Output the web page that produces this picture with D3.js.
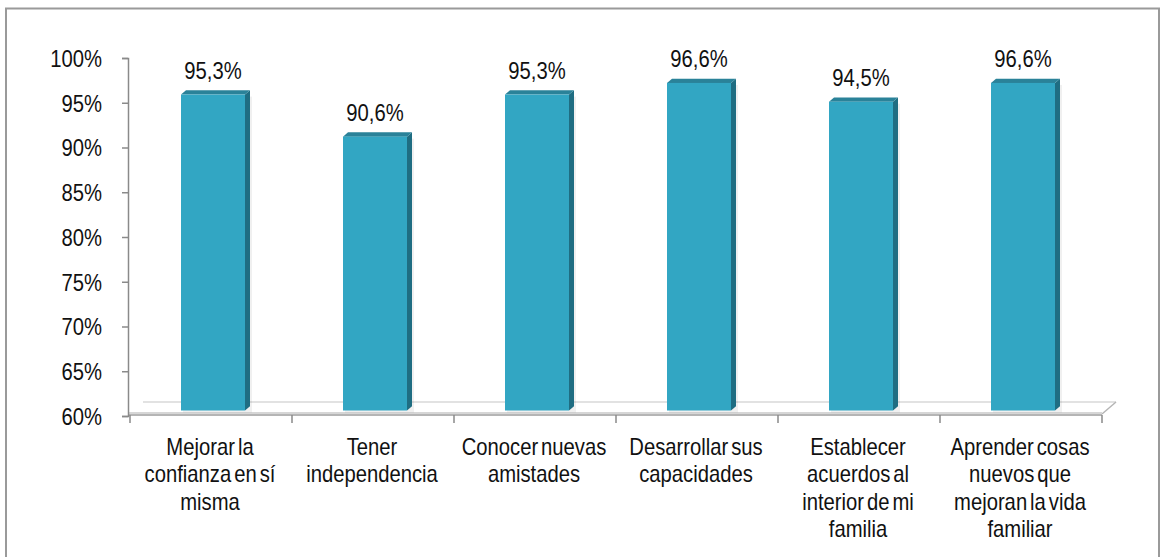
<!DOCTYPE html>
<html>
<head>
<meta charset="utf-8">
<script src="https://cdn.jsdelivr.net/npm/d3@7"></script>
<style>
  html, body { margin: 0; padding: 0; background: #fff; }
  svg { display: block; }
  text { font-family: "Liberation Sans", Arial, sans-serif; fill: #111; }
</style>
</head>
<body>
<svg id="chart" width="1165" height="557"></svg>
<script>
// Categories (wrapped into lines as printed under each column)
const categories = [
  "Mejorar la confianza en sí misma",
  "Tener independencia",
  "Conocer nuevas amistades",
  "Desarrollar sus capacidades",
  "Establecer acuerdos al interior de mi familia",
  "Aprender cosas nuevos que mejoran la vida familiar"
];
const categoryLines = [
  ["Mejorar la", "confianza en sí", "misma"],
  ["Tener", "independencia"],
  ["Conocer nuevas", "amistades"],
  ["Desarrollar sus", "capacidades"],
  ["Establecer", "acuerdos al", "interior de mi", "familia"],
  ["Aprender cosas", "nuevos que", "mejoran la vida", "familiar"]
];
// Percentages (%)
const values = [95.3, 90.6, 95.3, 96.6, 94.5, 96.6];
const valueLabels = ["95,3%", "90,6%", "95,3%", "96,6%", "94,5%", "96,6%"];
const yTicks = [60, 65, 70, 75, 80, 85, 90, 95, 100];

const svg = d3.select("#chart");
const SX = 0.88;            // horizontal condensing of the chart font
const FONT = 23;

// Outer frame
svg.append("rect")
  .attr("x", 6).attr("y", 8.5)
  .attr("width", 1153).attr("height", 600)
  .attr("fill", "none").attr("stroke", "#9a9a9a").attr("stroke-width", 2);

const x = d3.scaleBand().domain(categories).range([130, 1102]).paddingInner(0).paddingOuter(0);
const y = d3.scaleLinear().domain([60, 100]).range([416, 58]);

// 3D depth of the columns and floor
const depthX = 5, depthY = -4.3, lift = 5.5;

// Floor: back edge, right side and front edge
const floor = svg.append("g");
floor.append("line")
  .attr("x1", 143).attr("x2", 1116).attr("y1", 402).attr("y2", 402)
  .attr("stroke", "#e2e2e2").attr("stroke-width", 2);
floor.append("line")
  .attr("x1", 1102).attr("y1", 414).attr("x2", 1116).attr("y2", 402)
  .attr("stroke", "#b5b5b5").attr("stroke-width", 1.5);
floor.append("line")
  .attr("x1", 128).attr("x2", 1102).attr("y1", 413).attr("y2", 413)
  .attr("stroke", "#d6d6d6").attr("stroke-width", 2);
floor.append("line")
  .attr("x1", 128).attr("x2", 1102).attr("y1", 415).attr("y2", 415)
  .attr("stroke", "#9c9c9c").attr("stroke-width", 1.5);

// Y axis
const yAxis = svg.append("g")
  .attr("transform", "translate(128,0)")
  .call(d3.axisLeft(y).tickValues(yTicks).tickSize(6).tickFormat(d => d + "%"));
yAxis.select(".domain").attr("stroke", "#8a8a8a").attr("stroke-width", 1.5);
yAxis.selectAll(".tick line").attr("stroke", "#8a8a8a").attr("stroke-width", 1.5);
yAxis.selectAll(".tick text")
  .attr("font-size", FONT)
  .attr("font-family", "Liberation Sans, Arial, sans-serif")
  .attr("fill", "#111")
  .attr("x", -26 / SX)
  .attr("dy", "0.36em")
  .attr("transform", `scale(${SX},1)`);

// X tick marks at the category boundaries
const edges = categories.map(c => x(c)).concat([x(categories[categories.length - 1]) + x.bandwidth()]);
svg.append("g").selectAll("line").data(edges).join("line")
  .attr("x1", d => d).attr("x2", d => d)
  .attr("y1", 415).attr("y2", 423)
  .attr("stroke", "#8a8a8a").attr("stroke-width", 1.5);

// Columns
const barW = 64, barOff = 51;
const bars = svg.append("g").selectAll("g").data(values).join("g");
bars.each(function (v, i) {
  const g = d3.select(this);
  const x0 = x(categories[i]) + barOff, x1 = x0 + barW;
  const top = y(v) - lift, bottom = y(60) - lift;
  // soft shadow
  g.append("rect")
    .attr("x", x0 + 2).attr("y", top + 2)
    .attr("width", barW + depthX).attr("height", bottom - top)
    .attr("fill", "#000").attr("opacity", 0.06);
  // side face
  g.append("path")
    .attr("d", `M${x1},${top}L${x1 + depthX},${top + depthY}L${x1 + depthX},${bottom + depthY}L${x1},${bottom}Z`)
    .attr("fill", "#1f6d82");
  // top face
  g.append("path")
    .attr("d", `M${x0},${top}L${x0 + depthX},${top + depthY}L${x1 + depthX},${top + depthY}L${x1},${top}Z`)
    .attr("fill", "#2a8299");
  // front face
  g.append("rect")
    .attr("x", x0).attr("y", top)
    .attr("width", barW).attr("height", bottom - top)
    .attr("fill", "#32a6c3");
  // value label
  g.append("text")
    .attr("transform", `translate(${x0 + barW / 2},${top - 16}) scale(${SX},1)`)
    .attr("text-anchor", "middle")
    .attr("font-size", FONT)
    .text(valueLabels[i]);
});

// Category labels
const labels = svg.append("g").selectAll("g").data(categoryLines).join("g")
  .attr("transform", (d, i) => `translate(${x(categories[i]) + x.bandwidth() / 2 - 1},455) scale(${SX},1)`);
labels.each(function (lines) {
  d3.select(this).selectAll("text").data(lines).join("text")
    .attr("y", (d, j) => j * 27.5)
    .attr("text-anchor", "middle")
    .attr("font-size", FONT)
    .attr("word-spacing", -3)
    .text(d => d);
});
</script>
</body>
</html>
